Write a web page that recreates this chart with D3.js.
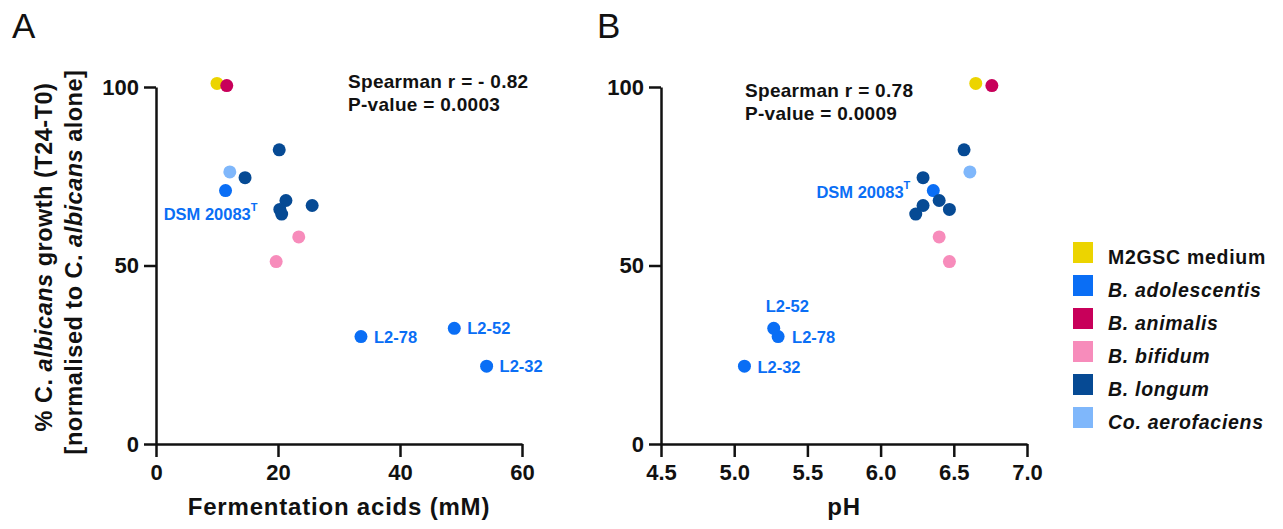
<!DOCTYPE html>
<html>
<head>
<meta charset="utf-8">
<script src="https://cdn.jsdelivr.net/npm/d3@7"></script>
<style>
  body { margin: 0; background: #fff; }
  svg { display: block; font-family: "Liberation Sans", Arial, sans-serif; }
  .axis path, .axis line { stroke: #111; stroke-width: 2.5px; }
  .axis text { font-size: 22px; font-weight: bold; fill: #111; }
</style>
</head>
<body>
<svg id="chart"></svg>
<script>
// groups and their colours
const groups = ["M2GSC medium", "B. adolescentis", "B. animalis", "B. bifidum", "B. longum", "Co. aerofaciens"];
const groupColors = ["#ecd400", "#0a6ef5", "#c8005a", "#f78cbb", "#064a94", "#7fb7fb"];
const groupItalic = [false, true, true, true, true, true];

// one entry per strain / condition
const strainGroup = ["M2GSC medium", "B. animalis", "B. longum", "Co. aerofaciens", "B. longum", "B. adolescentis",
  "B. longum", "B. longum", "B. longum", "B. longum", "B. bifidum", "B. bifidum",
  "B. adolescentis", "B. adolescentis", "B. adolescentis"];
const strainLabel = ["", "", "", "", "", "DSM 20083", "", "", "", "", "", "", "L2-78", "L2-52", "L2-32"];
const acids = [10.0, 11.6, 20.2, 12.1, 14.6, 11.4, 21.3, 25.6, 20.3, 20.6, 23.4, 19.7, 33.6, 48.9, 54.2];
const pH = [6.65, 6.76, 6.57, 6.61, 6.29, 6.36, 6.40, 6.29, 6.47, 6.24, 6.40, 6.47, 5.30, 5.27, 5.07];
const growth = [101.0, 100.4, 82.4, 76.2, 74.6, 71.0, 68.2, 66.8, 65.7, 64.4, 58.0, 51.1, 30.1, 32.4, 21.8];

const ticksA = [0, 20, 40, 60];
const ticksB = [4.5, 5.0, 5.5, 6.0, 6.5, 7.0];
const ticksY = [0, 50, 100];

const statsA = ["Spearman r = - 0.82", "P-value = 0.0003"];
const statsB = ["Spearman r = 0.78", "P-value = 0.0009"];

const width = 1283, height = 529;
const svg = d3.select("#chart").attr("width", width).attr("height", height);

const color = d3.scaleOrdinal().domain(groups).range(groupColors);
const y = d3.scaleLinear().domain([0, 100]).range([444, 87]);

const data = acids.map(function (a, i) {
  return { acids: a, pH: pH[i], growth: growth[i], group: strainGroup[i], label: strainLabel[i] };
});

// label offsets (px) per panel, keyed by label
const offsA = {
  "DSM 20083": { dx: 32, dy: 29, anchor: "end" },
  "L2-78": { dx: 13, dy: 6, anchor: "start" },
  "L2-52": { dx: 13, dy: 6, anchor: "start" },
  "L2-32": { dx: 13, dy: 6, anchor: "start" }
};
const offsB = {
  "DSM 20083": { dx: -23, dy: 7, anchor: "end" },
  "L2-78": { dx: 14, dy: 6, anchor: "start" },
  "L2-52": { dx: -8, dy: -16, anchor: "start" },
  "L2-32": { dx: 13, dy: 7, anchor: "start" }
};

function panel(opts) {
  const x = d3.scaleLinear().domain(opts.domain).range(opts.range);
  const g = svg.append("g");

  g.append("g").attr("class", "axis")
    .attr("transform", "translate(" + opts.range[0] + ",0)")
    .call(d3.axisLeft(y).tickValues(ticksY).tickSize(12).tickSizeOuter(0).tickPadding(5));

  g.append("g").attr("class", "axis")
    .attr("transform", "translate(0," + y(0) + ")")
    .call(d3.axisBottom(x).tickValues(opts.ticks).tickFormat(opts.fmt).tickSize(13).tickSizeOuter(0).tickPadding(7));

  g.selectAll("circle").data(data).enter().append("circle")
    .attr("cx", d => x(d[opts.key]))
    .attr("cy", d => y(d.growth))
    .attr("r", 6.5)
    .attr("fill", d => color(d.group));

  const lab = g.selectAll("text.pl").data(data.filter(d => d.label)).enter().append("text")
    .attr("class", "pl")
    .attr("x", d => x(d[opts.key]) + opts.offs[d.label].dx)
    .attr("y", d => y(d.growth) + opts.offs[d.label].dy)
    .attr("text-anchor", d => opts.offs[d.label].anchor)
    .attr("font-size", "16.5px").attr("font-weight", "bold")
    .attr("fill", color("B. adolescentis"))
    .text(d => d.label);
  lab.filter(d => d.label === "DSM 20083").append("tspan")
    .attr("dy", -9).attr("font-size", "11px").text("T");

  g.append("text")
    .attr("x", opts.statX).attr("y", opts.statY)
    .attr("font-size", "19px").attr("font-weight", "bold").attr("fill", "#111")
    .attr("letter-spacing", "0.3px")
    .selectAll("tspan").data(opts.stats).enter().append("tspan")
    .attr("x", opts.statX).attr("dy", (d, i) => i ? 22.5 : 0).text(d => d);

  g.append("text")
    .attr("x", (opts.range[0] + opts.range[1]) / 2).attr("y", 515)
    .attr("text-anchor", "middle").attr("font-size", "24px").attr("font-weight", "bold").attr("fill", "#111")
    .attr("letter-spacing", "0.8px")
    .text(opts.title);

  g.append("text")
    .attr("x", opts.letterX).attr("y", 38)
    .attr("font-size", "35px").attr("fill", "#111")
    .text(opts.letter);
}

panel({ domain: [0, 60], range: [156, 522], key: "acids", ticks: ticksA, fmt: d3.format("d"),
  offs: offsA, stats: statsA, statX: 348, statY: 88, title: "Fermentation acids (mM)", letter: "A", letterX: 12 });
panel({ domain: [4.5, 7.0], range: [661, 1027], key: "pH", ticks: ticksB, fmt: d3.format(".1f"),
  offs: offsB, stats: statsB, statX: 745, statY: 97, title: "pH", letter: "B", letterX: 597 });

// y axis title
const yt = svg.append("text")
  .attr("transform", "translate(52,257) rotate(-90)")
  .attr("text-anchor", "middle").attr("font-size", "23.5px").attr("font-weight", "bold").attr("fill", "#111")
  .attr("letter-spacing", "0.5px");
yt.append("tspan").text("% C. ");
yt.append("tspan").attr("font-style", "italic").text("albicans");
yt.append("tspan").text(" growth (T24-T0)");
const yt2 = svg.append("text")
  .attr("transform", "translate(82,262) rotate(-90)")
  .attr("text-anchor", "middle").attr("font-size", "23.5px").attr("font-weight", "bold").attr("fill", "#111")
  .attr("letter-spacing", "0.5px");
yt2.append("tspan").text("[normalised to C. ");
yt2.append("tspan").attr("font-style", "italic").text("albicans");
yt2.append("tspan").text(" alone]");

// legend
const leg = svg.append("g").selectAll("g").data(groups).enter().append("g")
  .attr("transform", (d, i) => "translate(1073," + (242 + i * 33) + ")");
leg.append("rect").attr("width", 20).attr("height", 21).attr("fill", d => color(d));
leg.append("text").attr("x", 35).attr("y", 22)
  .attr("font-size", "19.5px").attr("font-weight", "bold").attr("fill", "#111")
  .attr("letter-spacing", "0.7px")
  .attr("font-style", (d, i) => groupItalic[i] ? "italic" : "normal")
  .text(d => d);
</script>
</body>
</html>
